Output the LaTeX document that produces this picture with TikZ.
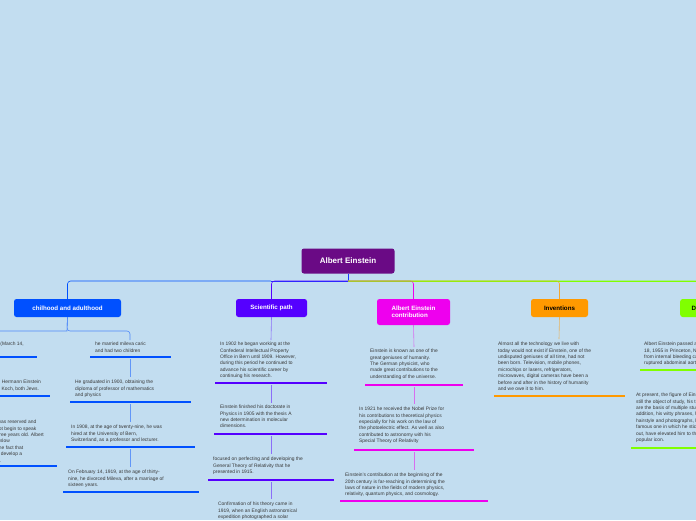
\documentclass[tikz,border=0pt]{standalone}
\usepackage{fontspec}
\setmainfont{Liberation Sans}
\begin{document}
\begin{tikzpicture}[x=1pt,y=-1pt,
  txt/.style={align=left,inner sep=0pt,text=black!78,font=\fontsize{4.9}{6.4}\selectfont},
  cbox/.style={rounded corners=2.5pt,font=\bfseries\fontsize{6.2}{7}\selectfont,inner sep=0pt,minimum height=18pt},
  bar/.style={line width=1.8pt},
  conn/.style={line width=0.6pt}]
\definecolor{bg}{HTML}{C2DDF0}
\definecolor{cA}{HTML}{0050FF}
\definecolor{cB}{HTML}{5500FF}
\definecolor{cC}{HTML}{EE00EE}
\definecolor{cD}{HTML}{FF9900}
\definecolor{cE}{HTML}{80FF00}
\definecolor{rootc}{HTML}{6A0A85}
\fill[bg] (0,0) rectangle (696,520);
\useasboundingbox (0,0) rectangle (696,520);
% root and children
\node[cbox,fill=rootc,text=white,minimum width=93pt,minimum height=25pt,font=\bfseries\fontsize{8}{9}\selectfont] (root) at (348,261) {Albert Einstein};
\node[cbox,fill=cA,text=white,minimum width=107pt] (ch) at (67.5,308) {chilhood and adulthood};
\node[cbox,fill=cB,text=white,minimum width=71pt] (sp) at (271.5,308) {Scientific path};
\node[cbox,fill=cC,text=white,minimum width=73pt,minimum height=26pt,align=left] (co) at (413.5,312) {Albert Einstein\\contribution};
\node[cbox,fill=cD,text=black,minimum width=57pt] (in) at (559.5,308) {Inventions};
\node[cbox,fill=cE,text=black,minimum width=40pt,anchor=west] (de) at (680,308) {Death};
\coordinate (h) at (348,281);
\draw[conn,cA!70!cB] (root.south) -- (h) -- (271,281);
\draw[conn,cA,rounded corners=3pt] (271,281) -| (ch.north);
\draw[conn,cB,rounded corners=3pt] (h) -| (sp.north);
\draw[conn,cE] (h) -- (696,281);
\draw[conn,cC,rounded corners=3pt] (h) -| (co.north);
\draw[conn,cD!80!bg,rounded corners=3pt] (h) -| (in.north);
\draw[conn,cE,rounded corners=3pt] (h) -| (de.north);
% childhood column
\draw[conn,cA!60!bg,rounded corners=3pt] (ch.south) -- (67,331) -| (130,340);
\draw[conn,cA!60!bg] (ch.south) -- (67,331) -- (0,331);
\node[txt,anchor=north west] (a1) at (95,342) {he married mileva caric\\and had two children};
\draw[bar,cA] (90,357) -- (171,357);
\node[txt,anchor=north west] (a2) at (75,380) {He graduated in 1900, obtaining the\\diploma of professor of mathematics\\and physics};
\draw[bar,cA] (70,402) -- (191,402);
\node[txt,anchor=north west] (a3) at (71,425) {In 1908, at the age of twenty-nine, he was\\hired at the University of Bern,\\Switzerland, as a professor and lecturer.};
\draw[bar,cA] (66,447) -- (195,447);
\node[txt,anchor=north west] (a4) at (68,470) {On February 14, 1919, at the age of thirty-\\nine, he divorced Mileva, after a marriage of\\sixteen years.};
\draw[bar,cA] (63,492) -- (199,492);
\draw[conn,cA!50!bg] (130,359) -- (130,377);
\draw[conn,cA!50!bg] (130,404) -- (130,422);
\draw[conn,cA!50!bg] (130,449) -- (130,467);
\node[txt,anchor=north east] (b1) at (24,342) {He was born in Ulm (March 14,\\1879, Germany)};
\draw[bar,cA] (0,357) -- (37,357);
\node[txt,anchor=north east] (b2) at (41,380) {His parents, Hermann Einstein\\and Pauline Koch, both Jews.};
\draw[bar,cA] (0,396) -- (50,396);
\node[txt,anchor=north east] (b3) at (44,420) {As a child he was reserved and\\quiet, he did not begin to speak\\until he was three years old. Albert\\ overcame this slow\\development the fact that\\ allowed him to develop a\\great creativity.};
\draw[bar,cA] (0,466) -- (57,466);
% scientific path
\draw[conn,cB!50!bg] (sp.south) -- (271,340);
\node[txt,anchor=north west] (s1) at (220,342) {In 1902 he began working at the\\Confederal Intellectual Property\\Office in Bern until 1909. However,\\during this period he continued to\\advance his scientific career by\\continuing his research.};
\draw[bar,cB] (215,383) -- (327,383);
\node[txt,anchor=north west] (s2) at (220,405) {Einstein finished his doctorate in\\Physics in 1905 with the thesis A\\new determination in molecular\\dimensions.};
\draw[bar,cB] (214,434) -- (327,434);
\node[txt,anchor=north west] (s3) at (213,457) {focused on perfecting and developing the\\General Theory of Relativity that he\\presented in 1915.};
\draw[bar,cB] (208,480) -- (334,480);
\node[txt,anchor=north west] (s4) at (218,502) {Confirmation of his theory came in\\1919, when an English astronomical\\expedition photographed a solar};
\draw[conn,cB!50!bg] (271,385) -- (271,403);
\draw[conn,cB!50!bg] (271,436) -- (271,454);
\draw[conn,cB!50!bg] (271,482) -- (271,499);
% contribution
\draw[conn,cC!50!bg] (co.south) -- (414,347);
\node[txt,anchor=north west] (c1) at (370,349) {Einstein is known as one of the\\great geniuses of humanity.\\The German physicist, who\\made great contributions to the\\understanding of the universe.};
\draw[bar,cC] (365,385) -- (463,385);
\node[txt,anchor=north west] (c2) at (359,407) {In 1921 he received the Nobel Prize for\\his contributions to theoretical physics\\especially for his work on the law of\\the photoelectric effect. As well as also\\contributed to astronomy with his\\Special Theory of Relativity};
\draw[bar,cC] (354,450) -- (474,450);
\node[txt,anchor=north west] (c3) at (345,473) {Einstein's contribution at the beginning of the\\20th century is far-reaching in determining the\\laws of nature in the fields of modern physics,\\relativity, quantum physics, and cosmology.};
\draw[bar,cC] (340,501) -- (488,501);
\draw[conn,cC!50!bg] (414,387) -- (414,404);
\draw[conn,cC!50!bg] (414,452) -- (414,470);
% inventions
\draw[conn,cD!60!bg] (in.south) -- (559,339);
\node[txt,anchor=north west] (i1) at (498,342) {Almost all the technology we live with\\today would not exist if Einstein, one of the\\undisputed geniuses of all time, had not\\been born. Television, mobile phones,\\microchips or lasers, refrigerators,\\microwaves, digital cameras have been a\\before and after in the history of humanity\\and we owe it to him.};
\draw[bar,cD] (494,396) -- (625,396);
% death
\node[txt,anchor=north west] (d1) at (644,342) {Albert Einstein passed away on April\\18, 1955 in Princeton, New Jersey,\\from internal bleeding caused by a\\ruptured abdominal aortic aneurysm.};
\draw[bar,cE] (640,370) -- (696,370);
\node[txt,anchor=north west] (d2) at (636,393) {At present, the figure of Einstein is\\still the object of study, his theories\\are the basis of multiple studies. In\\addition, his witty phrases, his\\hairstyle and photographs, like the\\famous one in which he sticks his tongue\\out, have elevated him to the status of a\\popular icon.};
\draw[bar,cE] (631,448) -- (696,448);
\end{tikzpicture}
\end{document}
